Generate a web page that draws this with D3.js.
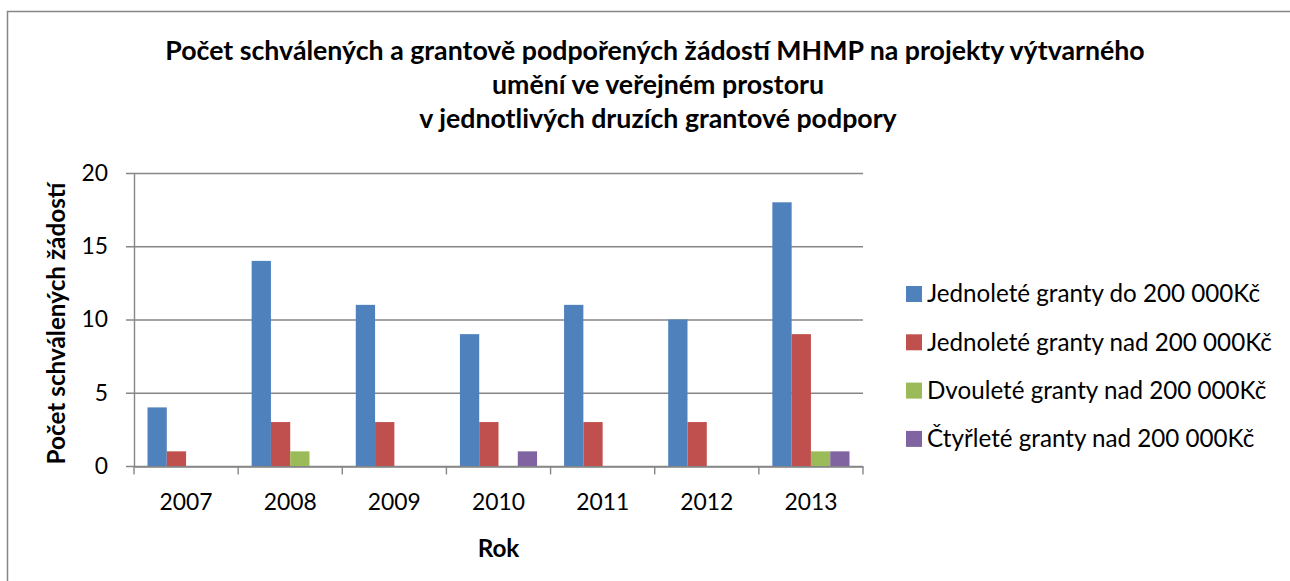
<!DOCTYPE html>
<html>
<head>
<meta charset="utf-8">
<script src="https://cdn.jsdelivr.net/npm/d3@7"></script>
<style>
  html, body { margin: 0; padding: 0; background: #fff; overflow: hidden; }
  svg { display: block; }
</style>
</head>
<body>
<div class="chart-wrapper"></div>
<script>
// chart data
const years = ['2007', '2008', '2009', '2010', '2011', '2012', '2013'];
const seriesNames = [
    'Jednoleté granty do 200 000Kč',
    'Jednoleté granty nad 200 000Kč',
    'Dvouleté granty nad 200 000Kč',
    'Čtyřleté granty nad 200 000Kč'
];
const jednoleteDo = [4, 14, 11, 9, 11, 10, 18];
const jednoleteNad = [1, 3, 3, 3, 3, 3, 9];
const dvouleteNad = [0, 1, 0, 0, 0, 0, 1];
const ctyrleteNad = [0, 0, 0, 1, 0, 0, 1];
const yTicks = [0, 5, 10, 15, 20];
const titleLines = [
    'Počet schválených a grantově podpořených žádostí MHMP na projekty výtvarného',
    'umění ve veřejném prostoru',
    'v jednotlivých druzích grantové podpory'
];
const yTitle = 'Počet schválených žádostí';
const xTitle = 'Rok';

const seriesValues = [jednoleteDo, jednoleteNad, dvouleteNad, ctyrleteNad];
const colors = ['#4F81BD', '#C0504D', '#9BBB59', '#8064A2'];
const gridColor = '#868686';
const font = 'Lato, "Open Sans", sans-serif';

const W = 1290, H = 581;
const plot = {left: 134, right: 863, top: 173, bottom: 466};

// scale font-size so the text spans the target width
function fit(sel, target) {
    const w = sel.node().getComputedTextLength();
    const fs = parseFloat(sel.attr('font-size')) * target / w;
    sel.attr('font-size', fs);
    return fs;
}

const svg = d3.select('.chart-wrapper')
    .append('svg')
    .attr('width', W)
    .attr('height', H)
    .style('font-family', font);

// chart area border: only top and left edges are inside the picture
svg.append('path')
    .attr('d', `M7.5,${H}V11.5H${W}`)
    .attr('fill', 'none')
    .attr('stroke', gridColor)
    .attr('stroke-width', 1.5);

const x = d3.scaleBand()
    .domain(years)
    .range([plot.left, plot.right])
    .paddingInner(0).paddingOuter(0);

const xs = d3.scaleBand()
    .domain(d3.range(seriesNames.length))
    .range([0, x.bandwidth()])
    .paddingInner(0).paddingOuter(0.7);

const y = d3.scaleLinear()
    .domain([0, 20])
    .range([plot.bottom, plot.top]);

// gridlines + y ticks
svg.append('g')
    .selectAll('line')
    .data(yTicks)
    .join('line')
    .attr('x1', plot.left - 8).attr('x2', plot.right)
    .attr('y1', d => y(d) + 0.5).attr('y2', d => y(d) + 0.5)
    .attr('stroke', gridColor)
    .attr('stroke-width', 1.4);

// bars
svg.append('g')
    .selectAll('g')
    .data(seriesValues)
    .join('g')
    .attr('fill', (d, i) => colors[i])
    .each(function(vals, si) {
        d3.select(this).selectAll('rect')
            .data(vals.map((v, k) => ({year: years[k], v})).filter(d => d.v > 0))
            .join('rect')
            .attr('x', d => x(d.year) + xs(si))
            .attr('width', xs.bandwidth())
            .attr('y', d => y(d.v))
            .attr('height', d => y(0) - y(d.v));
    });

// y axis line
svg.append('line')
    .attr('x1', plot.left + 0.5).attr('x2', plot.left + 0.5)
    .attr('y1', plot.top).attr('y2', plot.bottom)
    .attr('stroke', gridColor).attr('stroke-width', 1.4);

// x axis with category ticks
const xAxis = d3.axisBottom(x).tickSize(0).tickSizeOuter(0);
const gx = svg.append('g')
    .attr('transform', `translate(0,${plot.bottom + 0.5})`)
    .call(xAxis);
gx.select('.domain').attr('stroke', gridColor).attr('stroke-width', 1.4);
gx.selectAll('.tick text')
    .attr('fill', '#000')
    .attr('font-family', font)
    .attr('font-size', 22)
    .attr('dy', null)
    .attr('y', 43);
gx.selectAll('.sep')
    .data(years.concat(['end']))
    .join('line')
    .attr('class', 'sep')
    .attr('x1', (d, i) => i < years.length ? x(d) : plot.right)
    .attr('x2', (d, i) => i < years.length ? x(d) : plot.right)
    .attr('y1', 0).attr('y2', 8)
    .attr('stroke', gridColor).attr('stroke-width', 1.4);

const tickSize = fit(gx.select('.tick text'), 53);
gx.selectAll('.tick text').attr('font-size', tickSize);

// y tick labels
svg.append('g')
    .selectAll('text')
    .data(yTicks)
    .join('text')
    .attr('x', 108)
    .attr('y', d => y(d))
    .attr('dy', '0.35em')
    .attr('text-anchor', 'end')
    .attr('font-size', tickSize)
    .text(d => d);

// title
const title = svg.append('g')
    .attr('font-weight', 'bold')
    .attr('text-anchor', 'middle');
const t0 = title.append('text')
    .attr('x', 655).attr('y', 60)
    .attr('font-size', 22)
    .text(titleLines[0]);
const titleSize = fit(t0, 980);
title.selectAll('text.rest')
    .data(titleLines.slice(1))
    .join('text')
    .attr('class', 'rest')
    .attr('x', 658)
    .attr('y', (d, i) => 94 + i * 34)
    .attr('font-size', titleSize)
    .text(d => d);

// axis titles
const yt = svg.append('text')
    .attr('transform', `translate(65,${(plot.top + plot.bottom) / 2 + 4}) rotate(-90)`)
    .attr('text-anchor', 'middle')
    .attr('font-weight', 'bold')
    .attr('font-size', 20)
    .text(yTitle);
const axisTitleSize = fit(yt, 282);

svg.append('text')
    .attr('x', (plot.left + plot.right) / 2)
    .attr('y', 557)
    .attr('text-anchor', 'middle')
    .attr('font-weight', 'bold')
    .attr('font-size', axisTitleSize)
    .text(xTitle);

// legend
const legend = svg.append('g')
    .attr('transform', 'translate(906,286)');
const items = legend.selectAll('g')
    .data(seriesNames)
    .join('g')
    .attr('transform', (d, i) => `translate(0,${i * 48.3})`);
items.append('rect')
    .attr('width', 16).attr('height', 16)
    .attr('fill', (d, i) => colors[i]);
items.append('text')
    .attr('x', 21).attr('y', 8)
    .attr('dy', '0.35em')
    .attr('font-size', 20)
    .text(d => d);
const legSize = fit(items.filter((d, i) => i === 1).select('text'), 345);
items.selectAll('text').attr('font-size', legSize);
</script>
</body>
</html>
